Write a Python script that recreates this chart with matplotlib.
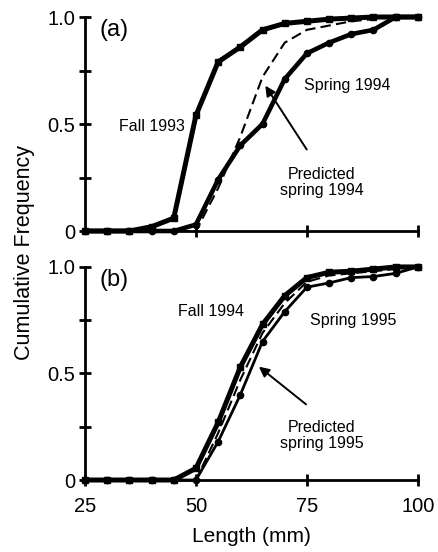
import matplotlib.pyplot as plt
import numpy as np

plt.rcParams['font.family'] = ['Liberation Sans', 'DejaVu Sans']

# Length classes (mm)
lengths = np.arange(25, 101, 5)

# Panel (a)
fall_1993 = [0, 0, 0, 0.02, 0.06, 0.54, 0.79, 0.86, 0.94, 0.97, 0.98, 0.99, 0.995, 1.0, 1.0, 1.0]
spring_1994 = [0, 0, 0, 0, 0, 0.03, 0.24, 0.40, 0.50, 0.71, 0.83, 0.88, 0.92, 0.94, 1.0, 1.0]
pred_spring_1994 = [0, 0, 0, 0, 0, 0, 0.20, 0.44, 0.72, 0.88, 0.94, 0.96, 0.98, 0.99, 1.0, 1.0]

# Panel (b)
fall_1994 = [0, 0, 0, 0, 0, 0.055, 0.27, 0.53, 0.73, 0.865, 0.95, 0.975, 0.98, 0.99, 1.0, 1.0]
spring_1995 = [0, 0, 0, 0, 0, 0, 0.18, 0.40, 0.65, 0.79, 0.905, 0.925, 0.95, 0.955, 0.97, 1.0]
pred_spring_1995 = [0, 0, 0, 0, 0, 0, 0.22, 0.47, 0.69, 0.83, 0.93, 0.96, 0.97, 0.98, 0.99, 1.0]

fig = plt.figure(figsize=(4.38, 5.52), dpi=100)
ax1 = fig.add_axes([0.194, 0.5815, 0.760, 0.3877])
ax2 = fig.add_axes([0.194, 0.1304, 0.760, 0.386])

note_fs = 11.5


def style(ax, show_xlabels):
    ax.set_xlim(25, 100)
    ax.set_ylim(0, 1)
    for s in ['top', 'right']:
        ax.spines[s].set_visible(False)
    for s in ['left', 'bottom']:
        ax.spines[s].set_linewidth(2)
    ax.set_yticks([0, 0.25, 0.5, 0.75, 1.0])
    ax.set_yticklabels(['0', '', '0.5', '', '1.0'])
    if show_xlabels:
        ax.set_xticks([25, 50, 75, 100])
        ax.set_xticklabels(['25', '50', '75', '100'])
    else:
        ax.set_xticks([50, 75, 100])
        ax.set_xticklabels([])
    ax.tick_params(direction='inout', length=8, width=2, labelsize=14.5)
    ax.tick_params(axis='y', pad=3)
    ax.tick_params(axis='x', pad=8)


# Panel (a)
ax1.plot(lengths, fall_1993, color='black', lw=3.6, marker='s', ms=4.5, clip_on=False, zorder=3)
ax1.plot(lengths, spring_1994, color='black', lw=3.3, marker='o', ms=4.5, clip_on=False, zorder=3)
ax1.plot(lengths, pred_spring_1994, color='black', lw=1.5, ls=(0, (5, 2.5)), clip_on=False, zorder=2)
style(ax1, False)
ax1.text(31.5, 0.94, '(a)', fontsize=17, ha='center', va='center')
ax1.text(40, 0.49, 'Fall 1993', fontsize=note_fs, ha='center', va='center')
ax1.text(84.2, 0.68, 'Spring 1994', fontsize=note_fs, ha='center', va='center')
ax1.text(78.3, 0.226, 'Predicted\nspring 1994', fontsize=note_fs, ha='center', va='center',
         linespacing=1.1)
ax1.annotate('', xy=(65.3, 0.69), xytext=(75.3, 0.37),
             arrowprops=dict(arrowstyle='-|>', color='black', lw=1.4, mutation_scale=15))

# Panel (b)
ax2.plot(lengths, fall_1994, color='black', lw=3.6, marker='s', ms=4.5, clip_on=False, zorder=3)
ax2.plot(lengths, spring_1995, color='black', lw=2.0, marker='o', ms=4.5, clip_on=False, zorder=3)
ax2.plot(lengths, pred_spring_1995, color='black', lw=1.5, ls=(0, (5, 2.5)), clip_on=False, zorder=2)
style(ax2, True)
ax2.text(31.5, 0.94, '(b)', fontsize=17, ha='center', va='center')
ax2.text(53.5, 0.79, 'Fall 1994', fontsize=note_fs, ha='center', va='center')
ax2.text(85.4, 0.748, 'Spring 1995', fontsize=note_fs, ha='center', va='center')
ax2.text(78.3, 0.21, 'Predicted\nspring 1995', fontsize=note_fs, ha='center', va='center',
         linespacing=1.1)
ax2.annotate('', xy=(63.7, 0.54), xytext=(75.3, 0.347),
             arrowprops=dict(arrowstyle='-|>', color='black', lw=1.4, mutation_scale=15))
ax2.set_xlabel('Length (mm)', fontsize=15, labelpad=8)

fig.text(0.055, 0.543, 'Cumulative Frequency', rotation=90, fontsize=15.5,
         ha='center', va='center')

plt.savefig('out.png', dpi=100)
